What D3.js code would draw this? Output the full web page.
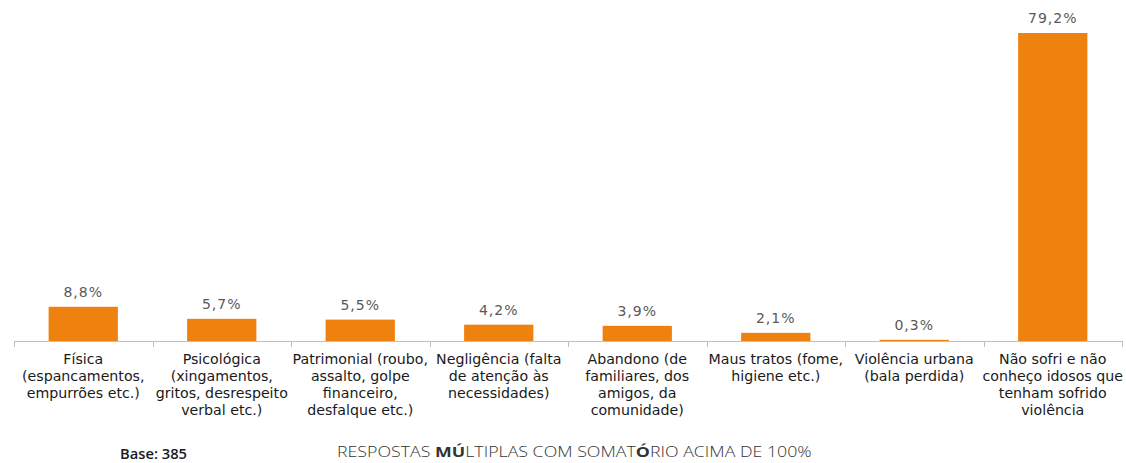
<!DOCTYPE html>
<html>
<head>
<meta charset="utf-8">
<script src="https://cdn.jsdelivr.net/npm/d3@7"></script>
<style>
  html, body { margin: 0; padding: 0; background: #fff; }
  svg { display: block; }
  .lbl { font-family: 'DejaVu Sans', sans-serif; }
</style>
</head>
<body>
<svg id="chart" width="1126" height="463"></svg>
<script>
// Tipos de violência contra idosos (%)
const categories = [
  "Física (espancamentos, empurrões etc.)",
  "Psicológica (xingamentos, gritos, desrespeito verbal etc.)",
  "Patrimonial (roubo, assalto, golpe financeiro, desfalque etc.)",
  "Negligência (falta de atenção às necessidades)",
  "Abandono (de familiares, dos amigos, da comunidade)",
  "Maus tratos (fome, higiene etc.)",
  "Violência urbana (bala perdida)",
  "Não sofri e não conheço idosos que tenham sofrido violência"
];
const categoryLines = [
  ["Física", "(espancamentos,", "empurrões etc.)"],
  ["Psicológica", "(xingamentos,", "gritos, desrespeito", "verbal etc.)"],
  ["Patrimonial (roubo,", "assalto, golpe", "financeiro,", "desfalque etc.)"],
  ["Negligência (falta", "de atenção às", "necessidades)"],
  ["Abandono (de", "familiares, dos", "amigos, da", "comunidade)"],
  ["Maus tratos (fome,", "higiene etc.)"],
  ["Violência urbana", "(bala perdida)"],
  ["Não sofri e não", "conheço idosos que", "tenham sofrido", "violência"]
];
const values = [8.8, 5.7, 5.5, 4.2, 3.9, 2.1, 0.3, 79.2];
const valueLabels = ["8,8%", "5,7%", "5,5%", "4,2%", "3,9%", "2,1%", "0,3%", "79,2%"];

const svg = d3.select("#chart");
const baseY = 341;

const x = d3.scaleBand()
  .domain(categories)
  .range([14, 1122])
  .paddingInner(0.5)
  .paddingOuter(0.25);

const y = d3.scaleLinear()
  .domain([0, 79.2])
  .range([baseY, 33]);

// barras
svg.append("g")
  .selectAll("rect")
  .data(values)
  .join("rect")
  .attr("x", (d, i) => x(categories[i]))
  .attr("y", d => y(d))
  .attr("width", x.bandwidth())
  .attr("height", d => baseY - y(d))
  .attr("fill", "#ef810e");

// rótulos de valor
svg.append("g")
  .selectAll("text")
  .data(values)
  .join("text")
  .attr("class", "lbl")
  .attr("x", (d, i) => x(categories[i]) + x.bandwidth() / 2)
  .attr("y", d => y(d) - 10)
  .attr("text-anchor", "middle")
  .attr("font-size", 14)
  .attr("letter-spacing", 1)
  .attr("fill", "#595959")
  .text((d, i) => valueLabels[i]);

// eixo horizontal com marcas entre categorias
const edges = d3.range(categories.length + 1).map(i => 14 + i * (1108 / categories.length));
const axis = svg.append("g");
axis.append("line")
  .attr("x1", 14).attr("x2", 1122)
  .attr("y1", baseY + 0.5).attr("y2", baseY + 0.5)
  .attr("stroke", "#bfbfbf").attr("stroke-width", 1);
axis.selectAll("line.tick")
  .data(edges)
  .join("line")
  .attr("class", "tick")
  .attr("x1", d => Math.round(d) + 0.5).attr("x2", d => Math.round(d) + 0.5)
  .attr("y1", baseY).attr("y2", baseY + 6)
  .attr("stroke", "#bfbfbf").attr("stroke-width", 1);

// rótulos das categorias
const labelG = svg.append("g")
  .attr("class", "lbl")
  .attr("font-size", 14.2)
  .attr("fill", "#1a1a1a")
  .attr("text-anchor", "middle");
categoryLines.forEach((lines, i) => {
  const cx = x(categories[i]) + x.bandwidth() / 2;
  const t = labelG.append("text").attr("x", cx).attr("y", 364);
  lines.forEach((ln, j) => {
    t.append("tspan").attr("x", cx).attr("dy", j === 0 ? 0 : 17).text(ln);
  });
});

// rodapé: texto ajustado horizontalmente à largura desejada
function fitWidth(sel, x0, width) {
  const w = sel.node().getComputedTextLength();
  sel.attr("x", 0)
    .attr("transform", `translate(${x0},0) scale(${width / w},1)`);
}

const base = svg.append("text")
  .attr("y", 459)
  .attr("font-family", "Open Sans, sans-serif")
  .attr("font-size", 14.5)
  .attr("font-weight", 600)
  .attr("fill", "#1a1a1a")
  .text("Base: 385");
fitWidth(base, 120, 67);

const note = svg.append("text")
  .attr("y", 457)
  .attr("font-family", "Open Sans, sans-serif")
  .attr("font-size", 15)
  .attr("font-weight", 300)
  .attr("fill", "#333");
note.append("tspan").text("RESPOSTAS ");
note.append("tspan").attr("font-weight", 700).text("MÚ");
note.append("tspan").text("LTIPLAS COM SOMAT");
note.append("tspan").attr("font-weight", 700).text("Ó");
note.append("tspan").text("RIO ACIMA DE 100%");
fitWidth(note, 337, 475);
</script>
</body>
</html>
